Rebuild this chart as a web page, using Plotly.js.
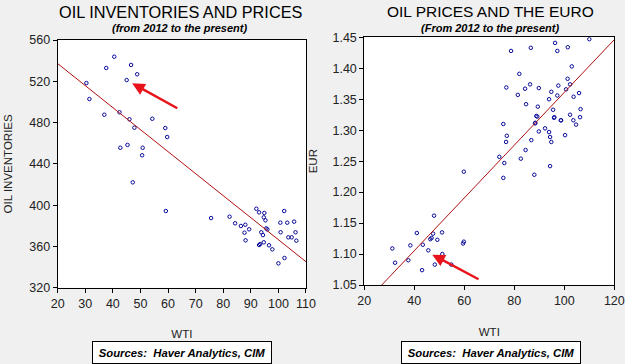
<!DOCTYPE html>
<html><head><meta charset="utf-8">
<script src="https://cdn.plot.ly/plotly-3.0.1.min.js"></script>
<style>html,body{margin:0;padding:0;background:#f0f0f0;}#chart{width:625px;height:364px;}</style>
</head><body><div id="chart"></div>
<script>
// Left chart: WTI vs oil inventories
const wtiInv = [40.5,37.6,46.6,48.8,45.0,30.4,31.5,36.9,42.4,46.0,47.8,54.3,59.0,59.7,42.7,45.3,50.8,50.6,47.2,59.2,
  75.6,82.3,84.3,86.4,87.7,89.4,88.1,92.0,93.0,94.9,94.7,95.3,95.6,93.8,94.4,94.7,93.0,96.6,97.8,102.1,
  100.7,103.2,105.7,100.8,106.2,103.6,104.8,106.5,102.2,100.0,93.4,88.0,96.0];
const inventories = [543.8,532.9,535.8,526.8,521.2,518.3,502.8,487.6,490.0,483.2,475.0,483.7,474.7,466.0,455.6,458.3,455.6,448.3,422.1,394.3,
  387.5,388.8,382.4,379.8,373.3,376.6,365.9,396.5,393.0,392.4,388.2,385.3,377.5,373.7,371.0,364.0,361.4,361.1,357.2,394.3,
  383.0,383.0,384.0,373.7,373.7,368.8,368.8,365.6,348.8,343.6,362.3,381.0,376.5];

// Right chart: WTI vs EUR
const wtiEur = [78.7,86.6,96.3,97.2,101.4,110.0,103.0,82.0,86.3,76.8,84.3,89.8,81.4,94.8,97.6,101.3,102.3,100.7,103.7,105.9,
  93.9,97.2,84.7,89.4,95.5,106.5,88.8,95.9,98.6,102.3,106.3,103.6,88.3,75.6,89.2,88.4,77.0,76.7,86.8,89.8,
  92.3,93.9,94.3,94.8,100.3,96.0,98.7,104.7,84.5,74.0,82.6,76.0,94.3,75.6,88.0,59.8,
  47.9,41.0,47.5,51.1,46.4,49.2,43.4,38.4,31.2,45.6,59.8,51.2,37.6,32.3,48.2,54.8,43.1,46.9,59.5];
const eur = [1.428,1.433,1.441,1.428,1.434,1.447,1.403,1.391,1.374,1.369,1.367,1.368,1.357,1.362,1.372,1.383,1.374,1.366,1.354,1.360,
  1.350,1.356,1.342,1.338,1.333,1.334,1.323,1.320,1.316,1.325,1.321,1.316,1.311,1.310,1.322,1.312,1.291,1.281,1.284,1.298,
  1.303,1.297,1.289,1.281,1.292,1.321,1.316,1.309,1.268,1.257,1.254,1.247,1.242,1.223,1.228,1.233,
  1.162,1.134,1.133,1.135,1.124,1.123,1.115,1.114,1.109,1.106,1.120,1.100,1.090,1.086,1.083,1.083,1.074,1.126,1.117];

const invTicks = [320,360,400,440,480,520,560];
const wtiTicksL = [20,30,40,50,60,70,80,90,100,110];
const eurTicks = [1.05,1.10,1.15,1.20,1.25,1.30,1.35,1.40,1.45];
const wtiTicksR = [20,40,60,80,100,120];

function ols(x, y) {
  const n = x.length;
  const mx = x.reduce((a,b)=>a+b,0)/n, my = y.reduce((a,b)=>a+b,0)/n;
  let sxy=0, sxx=0;
  for (let i=0;i<n;i++){ sxy+=(x[i]-mx)*(y[i]-my); sxx+=(x[i]-mx)**2; }
  const b = sxy/sxx; return {a: my-b*mx, b: b};
}
const fitL = ols(wtiInv, inventories);
const fitR = ols(wtiEur, eur);
const lineXL = [20,110], lineXR = [20,120];

const mk = {symbol:'circle-open', size:3.5, color:'#0a0a9a', line:{width:1}};
const red='#b01010';
const traces = [
  {x: wtiInv, y: inventories, mode:'markers', type:'scatter', marker: mk, xaxis:'x', yaxis:'y'},
  {x: lineXL, y: lineXL.map(v=>fitL.a+fitL.b*v), mode:'lines', line:{color:red, width:1}, xaxis:'x', yaxis:'y'},
  {x: wtiEur, y: eur, mode:'markers', type:'scatter', marker: mk, xaxis:'x2', yaxis:'y2'},
  {x: lineXR, y: lineXR.map(v=>fitR.a+fitR.b*v), mode:'lines', line:{color:red, width:1}, xaxis:'x2', yaxis:'y2'}
];

const ax = {showgrid:false, zeroline:false, showline:true, mirror:true, linecolor:'#000', linewidth:1,
  ticks:'outside', ticklen:4, tickcolor:'#000', tickfont:{family:'Liberation Sans, Arial', size:12.5, color:'#222'}};
const tfont = {family:'Liberation Sans, Arial', size:11.5, color:'#222'};

const layout = {
  width:625, height:364, margin:{l:0,r:0,t:0,b:0}, showlegend:false,
  paper_bgcolor:'#f0f0f0', plot_bgcolor:'#ffffff',
  xaxis: Object.assign({}, ax, {domain:[0.0923,0.4896], range:[20,110], tickvals:wtiTicksL, anchor:'y',
    title:{text:'WTI', font:tfont, standoff:20}}),
  yaxis: Object.assign({}, ax, {domain:[0.2096,0.8901], range:[320,560], tickvals:invTicks, anchor:'x',
    title:{text:'OIL INVENTORIES', font:tfont, standoff:14}}),
  xaxis2: Object.assign({}, ax, {domain:[0.5829,0.9829], range:[20,120], tickvals:wtiTicksR, anchor:'y2',
    title:{text:'WTI', font:tfont, standoff:20}}),
  yaxis2: Object.assign({}, ax, {domain:[0.217,0.8975], range:[1.05,1.45], tickvals:eurTicks, tickformat:'.2f', anchor:'x2',
    title:{text:'EUR', font:tfont, standoff:12}}),
  annotations: [
    {xref:'paper', yref:'paper', x:181/625, y:1-12/364, text:'OIL INVENTORIES AND PRICES', showarrow:false,
      font:{family:'Liberation Sans, Arial', size:16.3, color:'#000'}, xanchor:'center', yanchor:'middle'},
    {xref:'paper', yref:'paper', x:179/625, y:1-28/364, text:'<b><i>(from 2012 to the present)</i></b>', showarrow:false,
      font:{family:'Liberation Sans, Arial', size:11, color:'#000'}, xanchor:'center', yanchor:'middle'},
    {xref:'paper', yref:'paper', x:490/625, y:1-12/364, text:'OIL PRICES AND THE EURO', showarrow:false,
      font:{family:'Liberation Sans, Arial', size:15.5, color:'#000'}, xanchor:'center', yanchor:'middle'},
    {xref:'paper', yref:'paper', x:490/625, y:1-28/364, text:'<b><i>(From 2012 to the present)</i></b>', showarrow:false,
      font:{family:'Liberation Sans, Arial', size:11, color:'#000'}, xanchor:'center', yanchor:'middle'},
    {xref:'paper', yref:'paper', x:182/625, y:1-352/364, text:'<b><i>Sources:  Haver Analytics, CIM</i></b>', showarrow:false,
      font:{family:'Liberation Sans, Arial', size:11.3, color:'#000'}, xanchor:'center', yanchor:'middle',
      bgcolor:'#ffffff', bordercolor:'#000', borderwidth:1, width:176, height:19, borderpad:1},
    {xref:'paper', yref:'paper', x:491/625, y:1-352/364, text:'<b><i>Sources:  Haver Analytics, CIM</i></b>', showarrow:false,
      font:{family:'Liberation Sans, Arial', size:11.3, color:'#000'}, xanchor:'center', yanchor:'middle',
      bgcolor:'#ffffff', bordercolor:'#000', borderwidth:1, width:176, height:19, borderpad:1},
    {xref:'x', yref:'y', x:47, y:518, axref:'x', ayref:'y', ax:63.9, ay:493.1, text:'', showarrow:true,
      arrowcolor:'#e8141b', arrowwidth:2.5, arrowhead:2, arrowsize:1},
    {xref:'x2', yref:'y2', x:47.2, y:1.099, axref:'x2', ayref:'y2', ax:66.3, ay:1.058, text:'', showarrow:true,
      arrowcolor:'#e8141b', arrowwidth:2.5, arrowhead:2, arrowsize:1}
  ]
};
Plotly.newPlot('chart', traces, layout, {staticPlot:true, displayModeBar:false});
</script></body></html>
